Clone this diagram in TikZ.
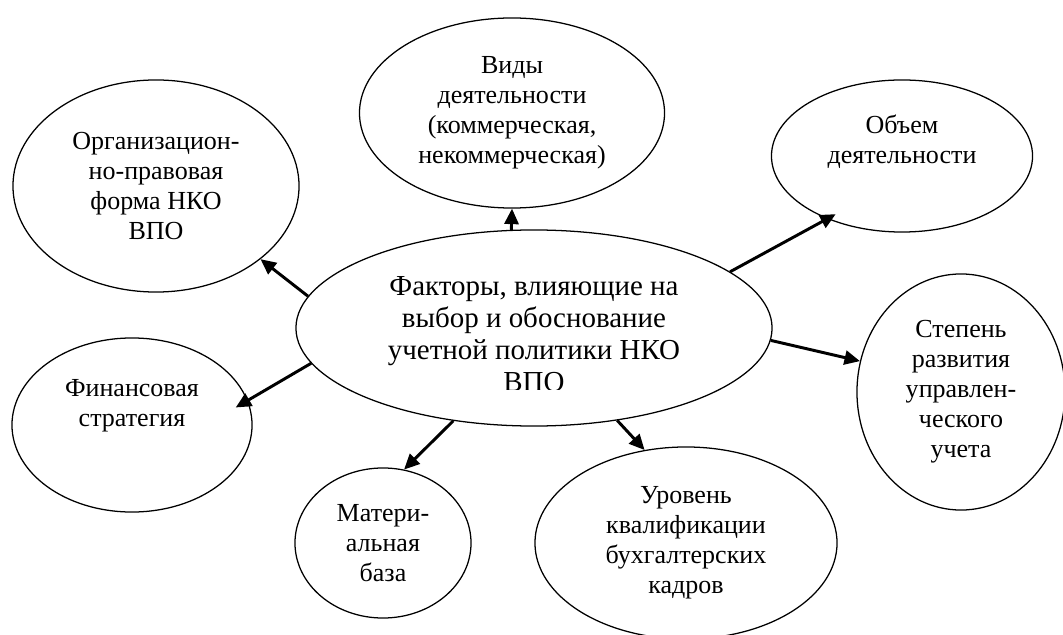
\documentclass[tikz,border=0pt]{standalone}
\usepackage{fontspec}
\setmainfont{Liberation Serif}
\usetikzlibrary{shapes.geometric, arrows.meta}

\begin{document}
\begin{tikzpicture}[x=0.025cm, y=0.025cm,
    fac/.style={draw, ellipse, line width=0.9pt, inner sep=0pt, align=center, font=\fontsize{18.5}{21.3}\selectfont},
    txt/.style={align=center, inner sep=0pt, font=\fontsize{18.5}{21.3}\selectfont},
    arr/.style={-{Triangle[length=11pt, width=10pt]}, line width=2.1pt}]
    \useasboundingbox (0,0) rectangle (1063,-635);
    % central factor
    \node[fac, minimum width=11.9cm, minimum height=4.9cm] (mid) at (534,-328) {};
    \begin{scope}
        \clip (296,-228) rectangle (772,-389);
        \node[txt, font=\fontsize{20.6}{22.8}\selectfont] (midtxt) at (534,-334) {Факторы, влияющие на\\выбор и обоснование\\учетной политики НКО\\ВПО};
    \end{scope}
    % factors around
    \node[fac, minimum width=7.15cm, minimum height=5.3cm] (org) at (156,-186) {Организацион-\\но-правовая\\форма НКО\\ВПО};
    \node[fac, minimum width=7.625cm, minimum height=4.75cm] (vid) at (512,-113) {Виды\\деятельности\\(коммерческая,\\некоммерческая)};
    \node[fac, minimum width=6.525cm, minimum height=3.8cm] (vol) at (902,-156) {};
    \node[txt] (voltxt) at ([yshift=0.35cm]vol.center) {Объем\\деятельности};
    \node[fac, minimum width=6cm, minimum height=4.35cm] (fin) at (132,-425) {};
    \node[txt] (fintxt) at ([yshift=0.475cm]fin.center) {Финансовая\\стратегия};
    \node[fac, minimum width=4.4cm, minimum height=3.75cm] (mat) at (383,-543) {Матери-\\альная\\база};
    \node[fac, minimum width=7.55cm, minimum height=4.8cm] (lvl) at (686,-543) {Уровень\\квалификации\\бухгалтерских\\кадров};
    \node[fac, minimum width=5.2cm, minimum height=5.9cm] (deg) at (961,-392) {Степень\\развития\\управлен-\\ческого\\учета};
    % arrows
    \draw[arr] (mid.172) -- (org.325);
    \draw[arr] (mid.103) -- (vid.south);
    \draw[arr, shorten >=-7pt] (mid.16) -- (vol.220);
    \draw[arr] (mid.357) -- (deg.163);
    \draw[arr, shorten >=-10pt] (mid.189) -- (fin.12);
    \draw[arr] (mid.229) -- (mat.74);
    \draw[arr] (mid.312) -- (lvl.114);
\end{tikzpicture}
\end{document}
